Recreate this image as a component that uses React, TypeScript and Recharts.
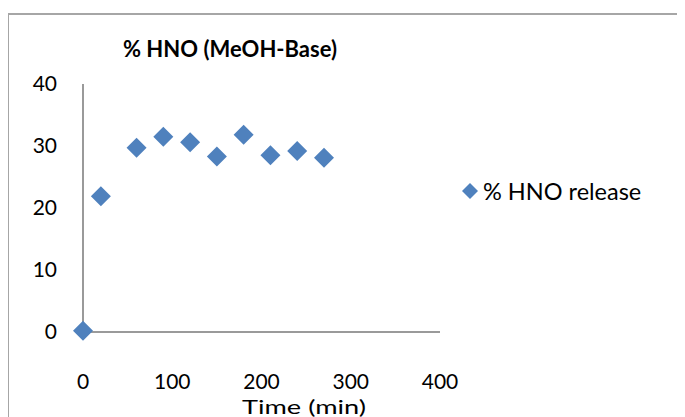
import React from "react";
import { ScatterChart, Scatter, XAxis, YAxis, Legend } from "recharts";

const timeMin = [0, 20, 60, 90, 120, 150, 180, 210, 240, 270];
const hnoRelease = [0.2, 21.9, 29.7, 31.5, 30.6, 28.3, 31.8, 28.5, 29.2, 28.1];
const xTicks = [0, 100, 200, 300, 400];
const yTicks = [0, 10, 20, 30, 40];

const points = timeMin.map((t, i) => ({ time: t, pct: hnoRelease[i] }));

const FONT = "Lato, 'Open Sans', sans-serif";
const BLUE = "#4F81BD";
const AXIS = "#9a9a9a";

const Diamond = (props: any) => {
  const { cx, cy } = props;
  const r = 10;
  return <polygon points={`${cx},${cy - r} ${cx + r},${cy} ${cx},${cy + r} ${cx - r},${cy}`} fill={BLUE} />;
};

const legendContent = () => (
  <div style={{ display: "flex", alignItems: "center", fontFamily: FONT, fontSize: 23.5, color: "#000" }}>
    <svg width={16} height={16} style={{ marginRight: 5 }}>
      <polygon points="8,0 16,8 8,16 0,8" fill={BLUE} />
    </svg>
    <span>% HNO release</span>
  </div>
);

export default function App() {
  return (
    <div style={{ position: "relative", width: 685, height: 417, margin: "-8px 0 0 -8px", overflow: "hidden", background: "#fff" }}>
      {/* chart frame, cut off on the right and bottom like the original */}
      <div style={{ position: "absolute", left: 7, top: 13, width: 720, height: 460, border: "2px solid #a6a6a6" }} />
      <div
        style={{
          position: "absolute",
          left: 0,
          width: 460,
          top: 35,
          textAlign: "center",
          fontFamily: FONT,
          fontWeight: 700,
          fontSize: 22,
          color: "#000",
        }}
      >
        % HNO (MeOH-Base)
      </div>
      <div style={{ position: "absolute", left: 0, top: 0 }}>
        <ScatterChart width={685} height={417} margin={{ top: 84, right: 25, bottom: 0, left: 0 }}>
          <XAxis
            type="number"
            dataKey="time"
            domain={[0, 400]}
            ticks={xTicks}
            interval={0}
            height={85}
            axisLine={{ stroke: AXIS, strokeWidth: 2 }}
            tickLine={false}
            tickSize={0}
            tickMargin={42}
            tick={{ fill: "#000", fontSize: 21, fontFamily: FONT }}
            label={{
              value: "Time (min)",
              content: () => (
                <text
                  x={304}
                  y={414}
                  textAnchor="middle"
                  fill="#000"
                  fontSize={19}
                  fontFamily={FONT}
                  textLength={124}
                  lengthAdjust="spacingAndGlyphs"
                >
                  Time (min)
                </text>
              ),
            }}
          />
          <YAxis
            type="number"
            dataKey="pct"
            domain={[0, 40]}
            ticks={yTicks}
            interval={0}
            width={83}
            axisLine={{ stroke: AXIS, strokeWidth: 2 }}
            tickLine={false}
            tickSize={0}
            tickMargin={26}
            tick={{ fill: "#000", fontSize: 21, fontFamily: FONT }}
          />
          <Legend
            layout="vertical"
            align="right"
            verticalAlign="top"
            content={legendContent}
            wrapperStyle={{ left: 462, top: 177, width: 220 }}
          />
          <Scatter name="% HNO release" data={points} fill={BLUE} shape={<Diamond />} isAnimationActive={false} />
        </ScatterChart>
      </div>
    </div>
  );
}
